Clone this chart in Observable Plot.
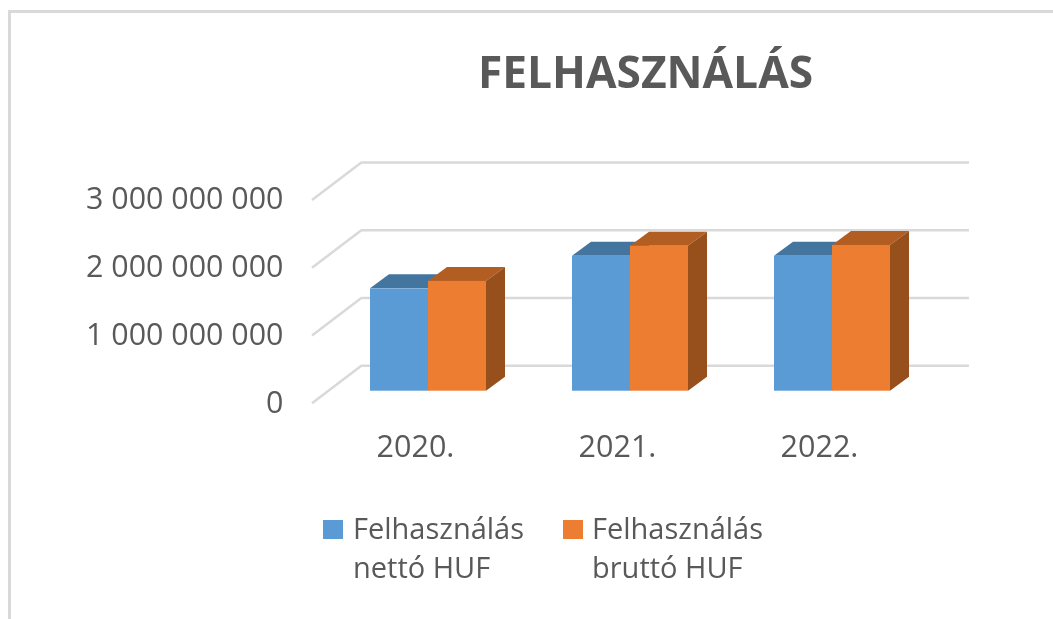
<!DOCTYPE html>
<html lang="hu">
<head>
<meta charset="utf-8">
<script src="https://cdn.jsdelivr.net/npm/d3@7"></script>
<script src="https://cdn.jsdelivr.net/npm/@observablehq/plot@0.6"></script>
<style>
  html, body { margin: 0; padding: 0; background: #fff; width: 1053px; height: 619px; overflow: hidden; }
  #page { position: absolute; left: 0; top: 0; width: 1053px; height: 619px; filter: blur(0.5px); }
  #frame { position: absolute; left: 8px; top: 10px; width: 1045px; height: 609px; box-sizing: border-box;
           border-top: 3px solid #d9d9d9; border-left: 3px solid #d9d9d9; }
  #title { position: absolute; left: 0; top: 41px; width: 1291px; text-align: center;
           font: 700 44.3px "Open Sans", sans-serif; color: #595959; line-height: 60px; }
  #chart { position: absolute; left: 0; top: 130px; }
  #chart svg { display: block; background: transparent; }
  #legend { position: absolute; left: 0; top: 508px; font: 29px/39px "Open Sans", sans-serif; color: #595959; }
  .swatch { position: absolute; top: 12px; width: 20px; height: 19px; }
  .label { position: absolute; top: 0; white-space: nowrap; }
</style>
</head>
<body>
<div id="page">
<div id="frame"></div>
<div id="title">FELHASZNÁLÁS</div>
<div id="chart"></div>
<div id="legend"></div>
</div>
<script>
const years = ["2020.", "2021.", "2022."];
const netto = [1.51e9, 1.99e9, 1.99e9];
const brutto = [1.62e9, 2.14e9, 2.15e9];
const yTicks = [0, 1e9, 2e9, 3e9];
const seriesNames = ["Felhasználás\nnettó HUF", "Felhasználás\nbruttó HUF"];
const seriesFront = ["#5b9bd5", "#ed7d31"];
const seriesTop = ["#44759f", "#b25e22"];
const seriesSide = ["#3f6d96", "#974f1b"];

const rowsNet = years.map((year, i) => ({year, value: netto[i]}));
const rowsGross = years.map((year, i) => ({year, value: brutto[i]}));

const barW = 58, groupBand = 202;
const wallDX = 50, wallDY = -38;   // depth of the floor / side wall
const barDX = 19, barDY = -14;     // depth of a column
const baseDY = -12.6;              // columns stand mid-way along the floor

function columnFaces(rows, seriesIndex, side) {
  return (index, scales) => {
    const g = d3.create("svg:g");
    for (const d of rows) {
      const left = scales.x(d.year) + (side === 0 ? groupBand / 2 - barW : groupBand / 2);
      const right = left + barW;
      const top = scales.y(d.value) + baseDY;
      const base = scales.y(0) + baseDY;
      g.append("polygon")
        .attr("fill", seriesTop[seriesIndex])
        .attr("points", [[left, top], [right, top], [right + barDX, top + barDY], [left + barDX, top + barDY]].join(" "));
      g.append("polygon")
        .attr("fill", seriesSide[seriesIndex])
        .attr("points", [[right, top], [right + barDX, top + barDY], [right + barDX, base + barDY], [right, base]].join(" "));
    }
    return g.node();
  };
}

function sideWallLines(index, scales, values, dimensions) {
  const g = d3.create("svg:g").attr("stroke", "#d9d9d9").attr("stroke-width", 2.5).attr("fill", "none");
  const xb = dimensions.marginLeft;
  for (const t of yTicks) {
    const y = scales.y(t);
    g.append("line").attr("x1", xb - wallDX).attr("y1", y).attr("x2", xb).attr("y2", y + wallDY);
  }
  return g.node();
}

const fmt = d => d3.format(",")(d).replace(/,/g, " ");
const textColor = "#595959";

const plot = Plot.plot({
  width: 1053,
  height: 340,
  marginLeft: 362,
  marginRight: 84,
  marginTop: 20,
  marginBottom: 67,
  style: {fontFamily: '"Open Sans", sans-serif', background: "transparent", overflow: "visible"},
  x: {type: "band", domain: years, range: [327.2, 933.2], padding: 0, label: null},
  y: {domain: [0, 3e9], range: [273.3, 70], label: null},
  marks: [
    Plot.ruleY(yTicks, {y: d => d, dy: wallDY, stroke: "#d9d9d9", strokeWidth: 2.5}),
    sideWallLines,
    columnFaces(rowsNet, 0, 0),
    Plot.barY(rowsNet, {x: "year", y: "value", fill: seriesFront[0], dy: baseDY,
      insetLeft: groupBand / 2 - barW, insetRight: groupBand / 2}),
    columnFaces(rowsGross, 1, 1),
    Plot.barY(rowsGross, {x: "year", y: "value", fill: seriesFront[1], dy: baseDY,
      insetLeft: groupBand / 2, insetRight: groupBand / 2 - barW}),
    Plot.axisY(yTicks, {anchor: "left", tickSize: 0, tickPadding: 79, dy: -1, tickFormat: fmt,
      fontSize: 30.4, fill: textColor, label: null}),
    Plot.axisX({anchor: "bottom", tickSize: 0, tickPadding: 32, dx: -13,
      fontSize: 30.5, fill: textColor, label: null})
  ]
});
document.getElementById("chart").append(plot);

const legend = document.getElementById("legend");
const legendX = [[323, 353], [563, 592]];
seriesNames.forEach((name, i) => {
  const sw = document.createElement("div");
  sw.className = "swatch";
  sw.style.left = legendX[i][0] + "px";
  sw.style.background = seriesFront[i];
  legend.append(sw);
  const lab = document.createElement("div");
  lab.className = "label";
  lab.style.left = legendX[i][1] + "px";
  lab.innerHTML = name.split("\n").join("<br>");
  legend.append(lab);
});
</script>
</body>
</html>
